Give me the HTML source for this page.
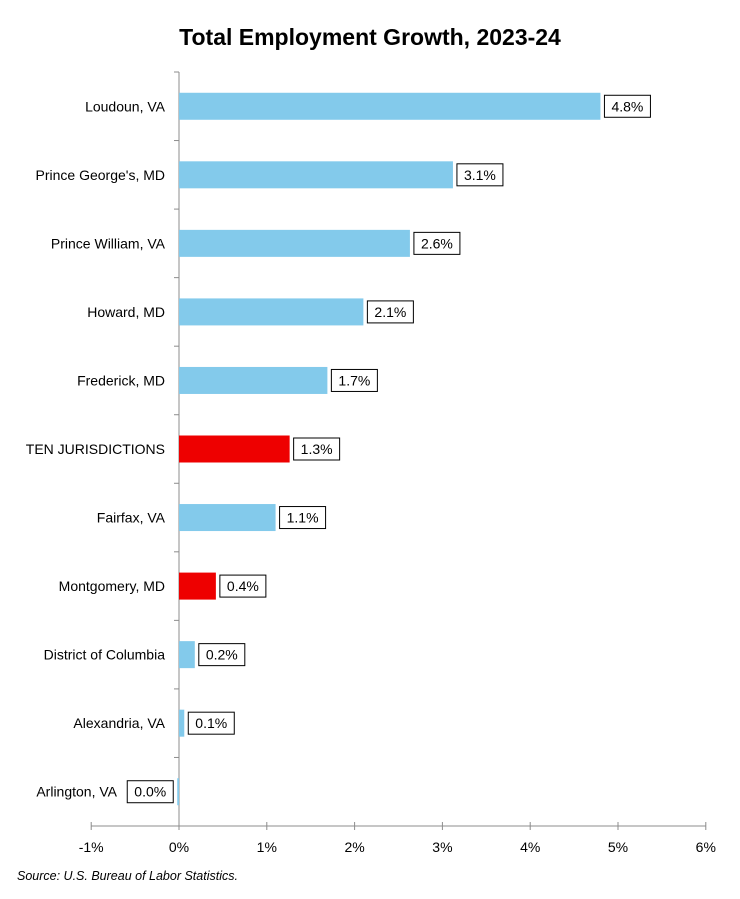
<!DOCTYPE html>
<html><head><meta charset="utf-8"><style>
body{margin:0;background:#fff;width:740px;height:899px;overflow:hidden;font-family:"Liberation Sans",sans-serif}
</style></head><body>
<svg id="chart" width="740" height="899" style="position:absolute;left:0;top:0">
<text x="370" y="45" text-anchor="middle" font-size="23" font-weight="bold" fill="#000">Total Employment Growth, 2023-24</text>
<text x="17" y="880" font-size="12.5" font-style="italic" fill="#000">Source: U.S. Bureau of Labor Statistics.</text>
</svg>
<script>
const categories=["Loudoun, VA","Prince George's, MD","Prince William, VA","Howard, MD","Frederick, MD","TEN JURISDICTIONS","Fairfax, VA","Montgomery, MD","District of Columbia","Alexandria, VA","Arlington, VA"];
const values=[4.8,3.12,2.63,2.1,1.69,1.26,1.1,0.42,0.18,0.06,-0.02];
const labels=["4.8%","3.1%","2.6%","2.1%","1.7%","1.3%","1.1%","0.4%","0.2%","0.1%","0.0%"];
const highlighted=[false,false,false,false,false,true,false,true,false,false,false];
const ticks=[-1,0,1,2,3,4,5,6];
const tickLabels=["-1%","0%","1%","2%","3%","4%","5%","6%"];

const svg=document.getElementById('chart');
const NS='http://www.w3.org/2000/svg';
const x0=179,pxPer=87.8,yTop=72,yBottom=826,n=categories.length;
const band=(yBottom-yTop)/n;
const xs=v=>x0+v*pxPer;
const yc=i=>yTop+band*(i+0.5);
function mk(t,a){const e=document.createElementNS(NS,t);for(const k in a)e.setAttribute(k,a[k]);svg.appendChild(e);return e;}

let e=mk('line',{x1:xs(-1),x2:xs(6),y1:yBottom,y2:yBottom,stroke:'#8c8c8c','stroke-width':1});


e=mk('line',{x1:x0,x2:x0,y1:yTop,y2:yBottom,stroke:'#8c8c8c','stroke-width':1});


for(let i=0;i<=n;i++){
  e=mk('line',{x1:x0-5,x2:x0,y1:yTop+band*i,y2:yTop+band*i,stroke:'#8c8c8c'});
  
  
}
ticks.forEach((t,i)=>{
  e=mk('line',{x1:xs(t),x2:xs(t),y1:yBottom-4,y2:yBottom+4,stroke:'#8c8c8c'});
  
  
  e=mk('text',{x:xs(t),y:yBottom+26,'text-anchor':'middle','font-size':14,fill:'#000'});
  e.textContent=tickLabels[i];
  
  
});
categories.forEach((c,i)=>{
  const v=values[i],y=yc(i),h=27;
  const xa=Math.min(xs(0),xs(v)),w=Math.max(Math.abs(xs(v)-xs(0)),1);
  e=mk('rect',{x:xa,y:y-h/2,width:w,height:h,fill:highlighted[i]?'#ee0000':'#83caeb'});
  
  
  const lx=v<0?x0-62:x0-14;
  e=mk('text',{x:lx,y:y+5,'text-anchor':'end','font-size':14,fill:'#000'});
  e.textContent=c;
  
  
  const bw=46,bh=22;
  const bx=v<0?xs(v)-4-bw:xs(v)+4;
  e=mk('rect',{x:bx,y:y-bh/2,width:bw,height:bh,fill:'#fff',stroke:'#000','stroke-width':1});
  
  
  e=mk('text',{x:bx+bw/2,y:y+5,'text-anchor':'middle','font-size':14,fill:'#000'});
  e.textContent=labels[i];
  
  
});
</script>
</body></html>
